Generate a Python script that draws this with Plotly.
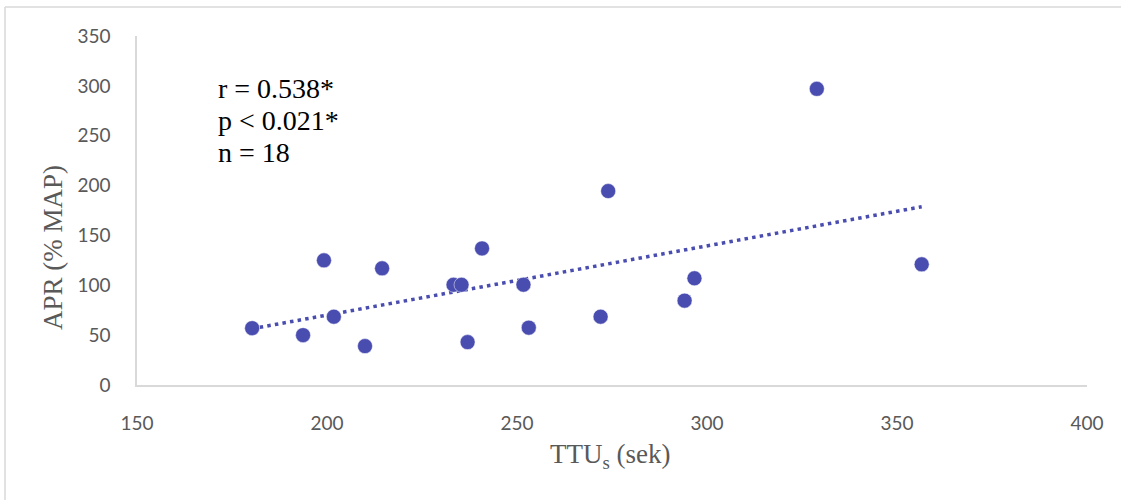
import numpy as np
import plotly.graph_objects as go

ttu = [180.3, 193.7, 199.2, 201.8, 210.0, 214.5, 233.3, 235.4, 237.0, 240.8,
       251.7, 253.1, 272.0, 274.0, 294.1, 296.7, 328.9, 356.5]
apr = [57, 50, 125, 68.5, 39, 117, 100.5, 100.5, 43, 137,
       100.6, 57.5, 68.5, 194.5, 84.6, 107, 297, 121]

x_ticks = [150, 200, 250, 300, 350, 400]
y_ticks = [0, 50, 100, 150, 200, 250, 300, 350]
stats_lines = ["r = 0.538*", "p < 0.021*", "n = 18"]

color = "#4A4DB0"
grey = "#595959"
axis_line = "#D9D9D9"

slope, intercept = np.polyfit(ttu, apr, 1)
xt = [min(ttu), max(ttu)]
yt = [slope * v + intercept for v in xt]

fig = go.Figure()
fig.add_trace(go.Scatter(x=xt, y=yt, mode="lines",
                         line=dict(color=color, width=3.5, dash="3.5px,4.2px"),
                         hoverinfo="skip", showlegend=False))
fig.add_trace(go.Scatter(x=ttu, y=apr, mode="markers",
                         marker=dict(color=color, size=15,
                                     line=dict(color="rgba(255,255,255,0.6)", width=0.8)),
                         showlegend=False))

L, R, T, B = 137, 34, 36, 115
W, H = 1121, 500
pw, ph = W - L - R, H - T - B

def px_to_paper_x(px):
    return (px - L) / pw

def px_to_paper_y(py):
    return (H - B - py) / ph

stat_centers = [88, 120.5, 152.5]
annotations = [
    dict(text=line, xref="paper", yref="paper",
         x=px_to_paper_x(216), y=px_to_paper_y(cy), xanchor="left", yanchor="middle",
         align="left", showarrow=False,
         font=dict(family="Liberation Serif", size=28, color="black"))
    for line, cy in zip(stats_lines, stat_centers)
]
annotations += [
    dict(text="APR (% MAP)", xref="paper", yref="paper",
         x=px_to_paper_x(53), y=px_to_paper_y(248), textangle=-90,
         xanchor="center", yanchor="middle", showarrow=False,
         font=dict(family="Liberation Serif", size=27, color=grey)),
    dict(text="TTU<sub>s</sub> (sek)", xref="paper", yref="paper",
         x=px_to_paper_x(610), y=px_to_paper_y(456),
         xanchor="center", yanchor="middle", showarrow=False,
         font=dict(family="Liberation Serif", size=27, color=grey)),
]

fig.update_layout(
    width=W, height=H,
    margin=dict(l=L, r=R, t=T, b=B),
    paper_bgcolor="white", plot_bgcolor="white",
    xaxis=dict(range=[150, 400], tickvals=x_ticks, showgrid=False, zeroline=False,
               showline=True, linecolor=axis_line, linewidth=1.5,
               ticks="outside", ticklen=20, tickcolor="rgba(0,0,0,0)",
               tickfont=dict(family="Lato", size=19, color=grey)),
    yaxis=dict(range=[0, 350], tickvals=y_ticks, showgrid=False, zeroline=False,
               showline=True, linecolor=axis_line, linewidth=1.5,
               ticks="outside", ticklen=21, tickcolor="rgba(0,0,0,0)",
               tickfont=dict(family="Lato", size=19, color=grey)),
    shapes=[
        dict(type="line", xref="paper", yref="paper",
             x0=px_to_paper_x(5), x1=px_to_paper_x(1130),
             y0=px_to_paper_y(7), y1=px_to_paper_y(7),
             line=dict(color=axis_line, width=1.5)),
        dict(type="line", xref="paper", yref="paper",
             x0=px_to_paper_x(5), x1=px_to_paper_x(5),
             y0=px_to_paper_y(7), y1=px_to_paper_y(510),
             line=dict(color=axis_line, width=1.5)),
    ],
    annotations=annotations,
)

fig.write_html("out.html")
